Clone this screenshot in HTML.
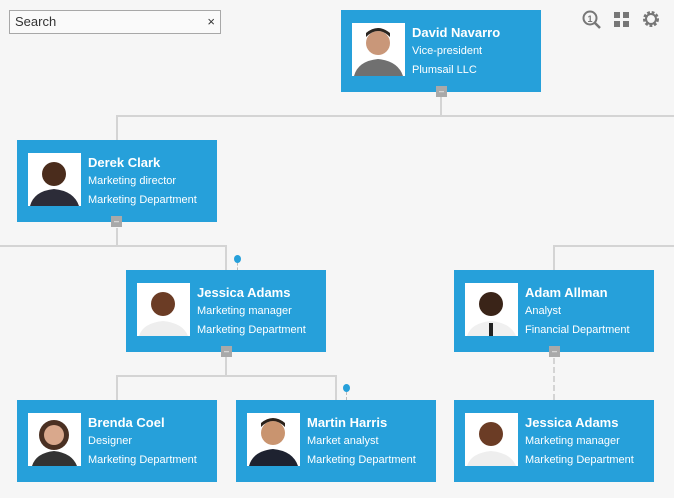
<!DOCTYPE html>
<html><head><meta charset="utf-8"><style>
html,body{margin:0;padding:0}
body{width:674px;height:498px;background:#f6f6f6;position:relative;overflow:hidden;font-family:"Liberation Sans",sans-serif}
.l{position:absolute;background:#d4d4d4}
.box{position:absolute;width:200px;height:82px;background:#26a0da;color:#fff}
.ph{position:absolute;left:11px;top:13px;width:53px;height:53px;background:#fff;overflow:hidden}
.n{position:absolute;left:71px;top:15px;font-size:13px;font-weight:bold;white-space:nowrap}
.t1{position:absolute;left:71px;top:35px;font-size:11px;white-space:nowrap}
.t2{position:absolute;left:71px;top:54px;font-size:11px;white-space:nowrap}
.btn{position:absolute;width:11px;height:11px;background:#a9a9a9;color:#fff;font-size:9px;line-height:10px;text-align:center}
.dot{position:absolute;width:7px;height:8px;border-radius:50%;background:#26a0da}
</style></head><body>
<div style="position:absolute;left:9px;top:10px;width:210px;height:22px;border:1px solid #a8a8a8;background:#fafafa;font-size:13px;line-height:22px;color:#333">
<span style="margin-left:5px">Search</span><span style="position:absolute;right:5px;top:0;font-size:13px">×</span></div>
<svg style="position:absolute;left:582px;top:9px" width="82" height="22">
<circle cx="8" cy="9" r="6.5" fill="none" stroke="#777" stroke-width="2"/><text x="5.5" y="13" font-size="9" font-weight="bold" fill="#777" font-family="Liberation Sans">1</text><line x1="13" y1="14" x2="18" y2="19" stroke="#777" stroke-width="2.5"/>
<g fill="#777"><rect x="32" y="3" width="6" height="6"/><rect x="41" y="3" width="6" height="6"/><rect x="32" y="12" width="6" height="6"/><rect x="41" y="12" width="6" height="6"/></g>
<circle cx="69" cy="10" r="6" fill="none" stroke="#777" stroke-width="4" stroke-dasharray="2.5 1.6"/><circle cx="69" cy="10" r="5" fill="none" stroke="#777" stroke-width="2"/>
</svg>
<!-- lines -->
<div class="l" style="left:440px;top:97px;width:2px;height:20px"></div>
<div class="l" style="left:116px;top:115px;width:558px;height:2px"></div>
<div class="l" style="left:116px;top:115px;width:2px;height:25px"></div>
<div class="l" style="left:116px;top:228px;width:2px;height:19px"></div>
<div class="l" style="left:0;top:245px;width:227px;height:2px"></div>
<div class="l" style="left:225px;top:245px;width:2px;height:25px"></div>
<div class="l" style="left:553px;top:245px;width:121px;height:2px"></div>
<div class="l" style="left:553px;top:245px;width:2px;height:25px"></div>
<div class="l" style="left:225px;top:357px;width:2px;height:20px"></div>
<div class="l" style="left:116px;top:375px;width:221px;height:2px"></div>
<div class="l" style="left:116px;top:375px;width:2px;height:25px"></div>
<div class="l" style="left:335px;top:375px;width:2px;height:25px"></div>
<div style="position:absolute;left:553px;top:358px;height:42px;border-left:2px dashed #d4d4d4"></div>
<div class="dot" style="left:234px;top:255px"></div><div style="position:absolute;left:237px;top:263px;height:7px;border-left:1px dashed #bbb"></div>
<div class="dot" style="left:343px;top:384px"></div><div style="position:absolute;left:346px;top:392px;height:8px;border-left:1px dashed #bbb"></div>

<div class="box" style="left:341px;top:10px"><div class="ph"><svg width="53" height="53"><circle cx="26" cy="20" r="12" fill="#c99779"/><path d="M14 14 Q26 2 38 14 L38 10 Q26 0 14 10Z" fill="#2a2520"/><path d="M2 53 Q6 38 26 36 Q46 38 51 53Z" fill="#707070"/></svg></div>
<div class="n">David Navarro</div><div class="t1">Vice-president</div><div class="t2">Plumsail LLC</div></div>
<div class="btn" style="left:436px;top:86px">–</div>

<div class="box" style="left:17px;top:140px"><div class="ph"><svg width="53" height="53"><circle cx="26" cy="21" r="12" fill="#4a2c1c"/><path d="M2 53 Q6 38 26 36 Q46 38 51 53Z" fill="#2c2c38"/></svg></div>
<div class="n">Derek Clark</div><div class="t1">Marketing director</div><div class="t2">Marketing Department</div></div>
<div class="btn" style="left:111px;top:216px">–</div>

<div class="box" style="left:126px;top:270px"><div class="ph"><svg width="53" height="53"><circle cx="26" cy="21" r="12" fill="#6b3c25"/><path d="M2 53 Q6 40 26 38 Q46 40 51 53Z" fill="#eee"/></svg></div>
<div class="n">Jessica Adams</div><div class="t1">Marketing manager</div><div class="t2">Marketing Department</div></div>
<div class="btn" style="left:221px;top:346px">–</div>

<div class="box" style="left:454px;top:270px"><div class="ph"><svg width="53" height="53"><circle cx="26" cy="21" r="12" fill="#3a2418"/><path d="M2 53 Q6 40 26 38 Q46 40 51 53Z" fill="#f0f0f0"/><rect x="24" y="40" width="4" height="13" fill="#222"/></svg></div>
<div class="n">Adam Allman</div><div class="t1">Analyst</div><div class="t2">Financial Department</div></div>
<div class="btn" style="left:549px;top:346px">–</div>

<div class="box" style="left:17px;top:400px"><div class="ph"><svg width="53" height="53"><circle cx="26" cy="22" r="15" fill="#4a3022"/><circle cx="26" cy="22" r="10" fill="#d9a88c"/><path d="M4 53 Q8 40 26 38 Q44 40 49 53Z" fill="#333"/></svg></div>
<div class="n">Brenda Coel</div><div class="t1">Designer</div><div class="t2">Marketing Department</div></div>

<div class="box" style="left:236px;top:400px"><div class="ph"><svg width="53" height="53"><circle cx="26" cy="20" r="12" fill="#c9946f"/><path d="M14 14 Q26 2 38 14 L38 10 Q26 0 14 10Z" fill="#2a2018"/><path d="M2 53 Q6 38 26 36 Q46 38 51 53Z" fill="#1e2230"/></svg></div>
<div class="n">Martin Harris</div><div class="t1">Market analyst</div><div class="t2">Marketing Department</div></div>

<div class="box" style="left:454px;top:400px"><div class="ph"><svg width="53" height="53"><circle cx="26" cy="21" r="12" fill="#6b3c25"/><path d="M2 53 Q6 40 26 38 Q46 40 51 53Z" fill="#eee"/></svg></div>
<div class="n">Jessica Adams</div><div class="t1">Marketing manager</div><div class="t2">Marketing Department</div></div>
</body></html>
